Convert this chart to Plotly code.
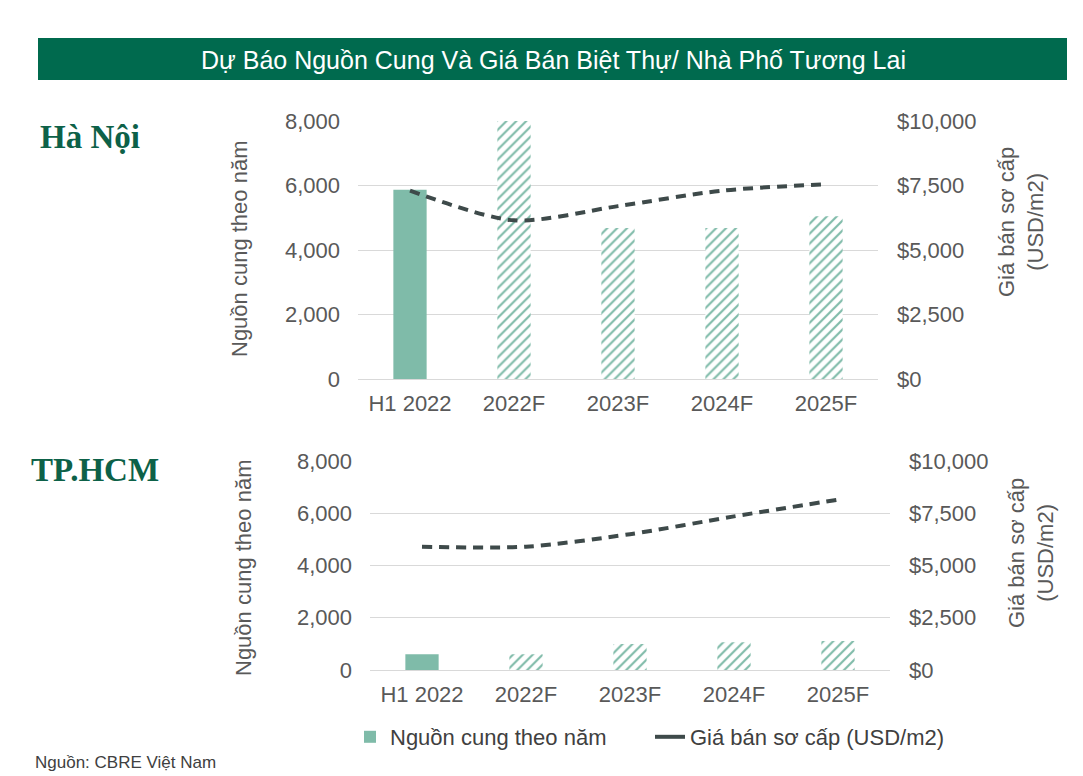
import plotly.graph_objects as go

W, H = 1083, 776

categories = ["H1 2022", "2022F", "2023F", "2024F", "2025F"]

# Hà Nội
hn_supply = [5870, 8000, 4680, 4680, 5050]
hn_price = [7300, 6150, 6700, 7300, 7550]

# TP.HCM
hcm_supply = [600, 600, 1000, 1060, 1110]
hcm_price = [5900, 5900, 6500, 7350, 8150]

TEAL = "#7FBBA9"
LINE = "#3E4A4A"
GREEN = "#006A4E"
TICK = "#595959"
GRID = "#D9D9D9"
FONT = "Liberation Sans"
FS = 22


def px_x(v):
    return v / W


def px_y(v):
    return 1 - v / H


fig = go.Figure()


def add_panel(supply, price, xa, ya, ya2, legend):
    # actual half-year bar (solid)
    fig.add_trace(go.Bar(
        x=categories[:1], y=supply[:1], xaxis=xa, yaxis=ya,
        marker=dict(color=TEAL, line=dict(width=0)),
        width=0.32, name="Nguồn cung theo năm", showlegend=legend,
        legendrank=1,
    ))
    # forecast bars (hatched)
    fig.add_trace(go.Bar(
        x=categories[1:], y=supply[1:], xaxis=xa, yaxis=ya,
        marker=dict(color="white", line=dict(width=0),
                    pattern=dict(shape="/", fgcolor=TEAL, bgcolor="white",
                                 size=7, solidity=0.3)),
        width=0.32, showlegend=False,
    ))
    fig.add_trace(go.Scatter(
        x=categories, y=price, xaxis=xa, yaxis=ya2, mode="lines",
        line=dict(color=LINE, width=4, dash="10px,7px", shape="spline",
                  smoothing=0.8),
        showlegend=False,
    ))


add_panel(hn_supply, hn_price, "x", "y", "y2", True)
add_panel(hcm_supply, hcm_price, "x2", "y3", "y4", False)

# legend entry for the price line (solid, as in the reference legend)
fig.add_trace(go.Scatter(
    x=[None], y=[None], xaxis="x2", yaxis="y4", mode="lines",
    line=dict(color=LINE, width=4), name="Giá bán sơ cấp (USD/m2)",
    legendrank=2,
))

tickfont = dict(family=FONT, size=FS, color=TICK)

left_axis = dict(range=[0, 8000], dtick=2000, tickformat=",", showgrid=True,
                 gridcolor=GRID, gridwidth=1, zeroline=True,
                 zerolinecolor=GRID, zerolinewidth=1, showline=False,
                 ticks="", ticklabelstandoff=17, tickfont=tickfont,
                 fixedrange=True, automargin=False)
right_axis = dict(range=[0, 10000], dtick=2500, tickformat=",",
                  tickprefix="$", showgrid=False, zeroline=False,
                  showline=False, side="right", ticks="",
                  ticklabelstandoff=18, tickfont=tickfont, fixedrange=True,
                  automargin=False)
cat_axis = dict(type="category", categoryorder="array",
                categoryarray=categories, showgrid=False, zeroline=False,
                showline=False, ticks="", ticklabelstandoff=9,
                tickfont=tickfont, fixedrange=True, automargin=False)

fig.update_layout(
    template="none",
    width=W, height=H, autosize=False,
    margin=dict(l=0, r=0, t=0, b=0, pad=0),
    paper_bgcolor="white", plot_bgcolor="white",
    barmode="overlay",
    font=dict(family=FONT, color=TICK),
    xaxis=dict(cat_axis, domain=[px_x(358), px_x(878)], anchor="y"),
    yaxis=dict(left_axis, domain=[px_y(379), px_y(121)], anchor="x"),
    yaxis2=dict(right_axis, overlaying="y", anchor="x"),
    xaxis2=dict(cat_axis, domain=[px_x(370), px_x(890)], anchor="y3"),
    yaxis3=dict(left_axis, domain=[px_y(670), px_y(461)], anchor="x2"),
    yaxis4=dict(right_axis, overlaying="y3", anchor="x2"),
    legend=dict(orientation="h", x=px_x(350), xanchor="left",
                y=px_y(737), yanchor="middle",
                entrywidth=255, entrywidthmode="pixels",
                font=dict(family=FONT, size=FS, color="#404040"),
                bgcolor="rgba(0,0,0,0)", itemclick=False),
    showlegend=True,
)

# header band
fig.add_shape(type="rect", xref="paper", yref="paper",
              x0=px_x(38), x1=px_x(1067), y0=px_y(80), y1=px_y(38),
              fillcolor=GREEN, line=dict(width=0), layer="below")

annotations = [
    dict(text="Dự Báo Nguồn Cung Và Giá Bán Biệt Thự/ Nhà Phố Tương Lai",
         x=px_x(553), y=px_y(60), font=dict(family=FONT, size=25, color="white")),
    dict(text="<b>Hà Nội</b>", x=px_x(90), y=px_y(137),
         font=dict(family="Liberation Serif", size=33, color="#0D6148")),
    dict(text="<b>TP.HCM</b>", x=px_x(95), y=px_y(470),
         font=dict(family="Liberation Serif", size=33, color="#0D6148")),
    dict(text="Nguồn cung theo năm", x=px_x(240), y=px_y(249), textangle=-90,
         font=dict(family=FONT, size=FS, color=TICK)),
    dict(text="Nguồn cung theo năm", x=px_x(243), y=px_y(568), textangle=-90,
         font=dict(family=FONT, size=FS, color=TICK)),
    dict(text="Giá bán sơ cấp<br>(USD/m2)", x=px_x(1021), y=px_y(222),
         textangle=-90, font=dict(family=FONT, size=FS, color=TICK)),
    dict(text="Giá bán sơ cấp<br>(USD/m2)", x=px_x(1031), y=px_y(553),
         textangle=-90, font=dict(family=FONT, size=FS, color=TICK)),
]
for a in annotations:
    fig.add_annotation(dict(xref="paper", yref="paper", showarrow=False,
                            xanchor="center", yanchor="middle", **a))

fig.add_annotation(text="Nguồn: CBRE Việt Nam", xref="paper", yref="paper",
                   x=px_x(33), y=px_y(762), xanchor="left", yanchor="middle",
                   showarrow=False,
                   font=dict(family=FONT, size=17, color="#404040"))

fig.write_html("out.html", config={"displayModeBar": False},
               post_script="document.body.style.margin='0';"
                           "document.body.style.overflow='hidden';")
